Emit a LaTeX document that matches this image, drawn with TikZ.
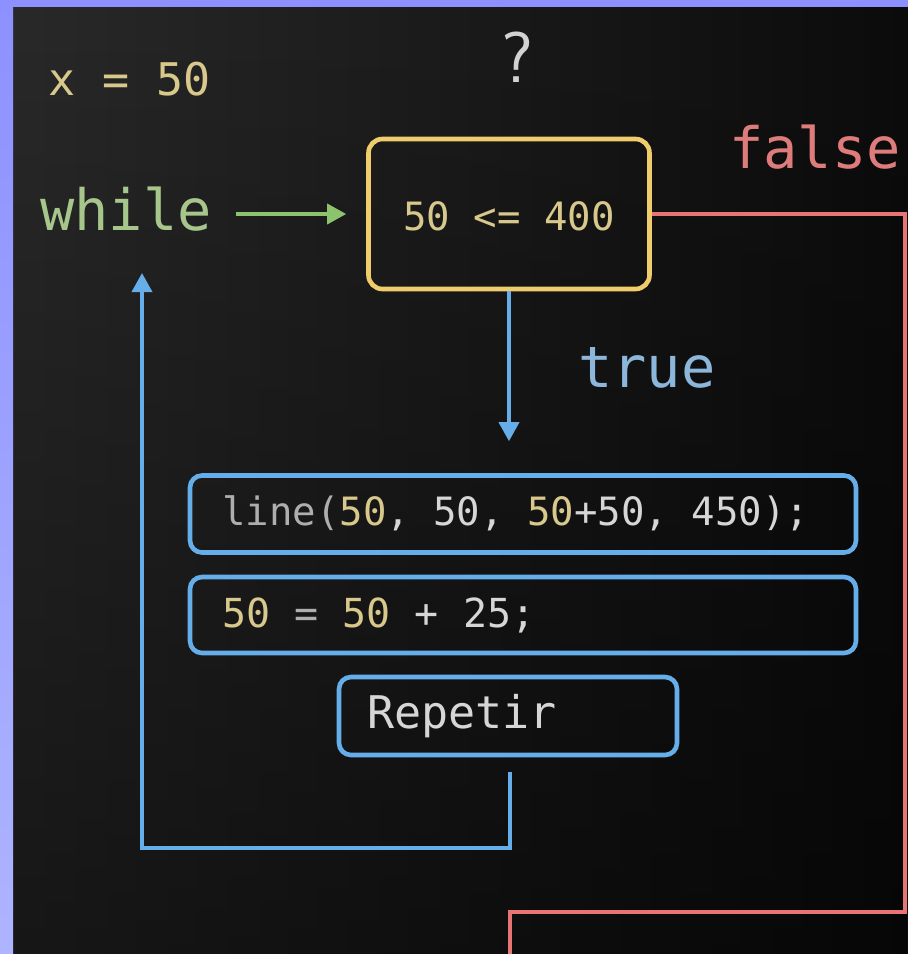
\documentclass[tikz,border=0pt]{standalone}
\usepackage{fontspec}
\setmonofont{DejaVu Sans Mono}
\usetikzlibrary{arrows.meta,fadings}
\definecolor{bgl}{HTML}{2A2A2A}
\definecolor{bgr}{HTML}{0C0C0C}
\definecolor{frtop}{HTML}{8C91FF}
\definecolor{frbot}{HTML}{AEB4FF}
\definecolor{cyel}{HTML}{D8C88C}
\definecolor{cgreen}{HTML}{A6C68C}
\definecolor{carrowg}{HTML}{8CC46E}
\definecolor{cbox}{HTML}{EFCD6C}
\definecolor{cred}{HTML}{E87474}
\definecolor{cfalse}{HTML}{DE7C7C}
\definecolor{cblue}{HTML}{66AEEA}
\definecolor{ctrue}{HTML}{8CB6DA}
\definecolor{cwhite}{HTML}{D6D6D6}
\definecolor{cgray}{HTML}{AEAEAE}
\definecolor{cq}{HTML}{D2D2D2}
\begin{document}
\begin{tikzpicture}[x=1pt,y=-1pt,
  txt/.style={inner sep=0pt,anchor=base west},
  fs/.style={font=\ttfamily\fontsize{#1}{#1}\selectfont},
  chalk/.style={line width=4.6pt,rounded corners=14pt,inner sep=0pt},
  blueline/.style={draw=cblue,line width=3.6pt},
  tipb/.style={-{Triangle[width=20pt,length=19pt]}}
]
\useasboundingbox (0,0) rectangle (908,954);
% background
\shade[left color=bgl,right color=bgr] (0,0) rectangle (908,954);
\fill[black,path fading=north,fill opacity=0.45] (0,0) rectangle (908,954);
% frame
\fill[frtop] (0,0) rectangle (908,7);
\shade[top color=frtop,bottom color=frbot] (0,0) rectangle (13,954);

% texts
\node[txt,fs=45,text=cyel] (xval) at (48,95) {x = 50};
\node[inner sep=0pt,anchor=base,font=\sffamily\fontsize{72}{72}\selectfont,text=cq] (q) at (517,82) {?};
\node[txt,fs=57,text=cgreen] (while) at (40,230) {while};
\node[txt,fs=57,text=cfalse] (false) at (729,168) {false};
\node[txt,fs=57,text=ctrue] (true) at (578,387) {true};

% condition box
\node[chalk,draw=cbox,minimum width=281pt,minimum height=150pt] (cond) at (509,214) {};
\node[inner sep=0pt,anchor=base,fs=39,text=cyel] (condt) at (509,230) {50 <= 400};

% body boxes
\node[chalk,draw=cblue,rounded corners=12pt,minimum width=666pt,minimum height=77pt] (b1) at (523,514) {};
\node[txt,fs=39] (b1t) at (222,525) {\textcolor{cgray}{line(}\textcolor{cyel}{50}\textcolor{cwhite}{, 50, }\textcolor{cyel}{50}\textcolor{cwhite}{+50, 450);}};
\node[chalk,draw=cblue,rounded corners=12pt,minimum width=666pt,minimum height=76pt] (b2) at (523,615) {};
\node[txt,fs=40] (b2t) at (222,627) {\textcolor{cyel}{50}\textcolor{cgray}{{} = }\textcolor{cyel}{50}\textcolor{cwhite}{{} + 25;}};
\node[chalk,draw=cblue,rounded corners=12pt,minimum width=338pt,minimum height=78pt] (b3) at (508,716) {};
\node[txt,fs=45,text=cwhite] (b3t) at (367,728) {Repetir};

% green arrow
\draw[draw=carrowg,line width=3.6pt,-{Triangle[width=20pt,length=19pt]},shorten <=24pt,shorten >=20pt] (while.east |- cond.west) -- (cond.west);

% true arrow
\draw[blueline,tipb,shorten >=32pt] (cond.south) -- (b1.north -| cond.south);

% loop back
\coordinate (l1) at (510,848);
\coordinate (l2) at (142,848);
\coordinate (l3) at (142,273);
\draw[blueline,tipb,shorten <=15pt] (b3.south -| l1) -- (l1) -- (l2) -- (l3);

% false path
\coordinate (r1) at (905,214);
\coordinate (r2) at (905,912);
\coordinate (r3) at (510,912);
\coordinate (r4) at (510,956);
\draw[draw=cred,line width=3.8pt] (cond.east) -- (r1) -- (r2) -- (r3) -- (r4);
\end{tikzpicture}
\end{document}
